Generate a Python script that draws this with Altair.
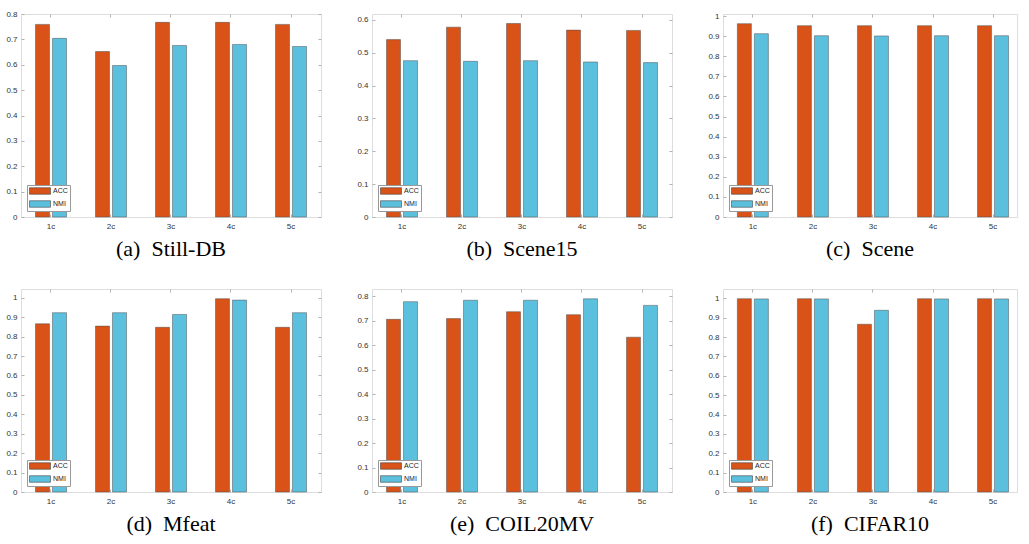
import altair as alt
import pandas as pd

categories = ["1c", "2c", "3c", "4c", "5c"]
metrics = ["ACC", "NMI"]

still_acc = [0.759, 0.652, 0.767, 0.767, 0.759]
still_nmi = [0.704, 0.597, 0.676, 0.680, 0.672]
scene15_acc = [0.540, 0.578, 0.589, 0.569, 0.568]
scene15_nmi = [0.476, 0.474, 0.476, 0.472, 0.470]
scene_acc = [0.962, 0.952, 0.952, 0.952, 0.952]
scene_nmi = [0.912, 0.902, 0.901, 0.902, 0.902]
mfeat_acc = [0.866, 0.854, 0.848, 0.995, 0.848]
mfeat_nmi = [0.923, 0.923, 0.914, 0.988, 0.923]
coil_acc = [0.706, 0.709, 0.737, 0.725, 0.633]
coil_nmi = [0.778, 0.784, 0.784, 0.790, 0.763]
cifar_acc = [0.998, 0.998, 0.866, 0.998, 0.998]
cifar_nmi = [0.997, 0.997, 0.938, 0.997, 0.997]

captions = ["(a)\u00a0 Still-DB", "(b)\u00a0 Scene15", "(c)\u00a0 Scene",
            "(d)\u00a0 Mfeat", "(e)\u00a0 COIL20MV", "(f)\u00a0 CIFAR10"]
y_max = [0.8, 0.618, 1.01, 1.045, 0.83, 1.048]
tick_top = [0.8, 0.6, 1.0, 1.0, 0.8, 1.0]

ACC_COLOR = "#D95319"
NMI_COLOR = "#5BC0DE"
EDGE = "#b3b3b3"
H = 203


def panel(acc, nmi, caption, ymax, ttop, width, clipped=False):
    df = pd.DataFrame({
        "cat": categories * 2,
        "metric": ["ACC"] * 5 + ["NMI"] * 5,
        "value": acc + nmi,
    })
    nt = int(round(ttop * 10))
    ticks = [i / 10 for i in range(nt + 1)]
    if clipped:
        xs = alt.Scale(paddingInner=0.483, paddingOuter=0.19, align=0.63)
        ydash = [3, 3000]
    else:
        xs = alt.Scale(paddingInner=0.483, paddingOuter=0.2415)
        ydash = [3, width - 6, 3, 3000]
    return alt.Chart(df).mark_bar(stroke="#4a4a4a", strokeWidth=0.6, strokeOpacity=0.8).encode(
        x=alt.X("cat:N", sort=categories, scale=xs, title=None,
                axis=alt.Axis(labelAngle=0, ticks=False, domain=False, grid=True,
                              gridDash=[3, H - 6, 3, 3000], gridColor=EDGE, gridWidth=1,
                              bandPosition=0.5, labelFontSize=8, labelPadding=5,
                              labelColor="#333333", labelFont="Liberation Sans")),
        xOffset=alt.XOffset("metric:N", sort=metrics,
                            scale=alt.Scale(paddingInner=0.176, paddingOuter=0)),
        y=alt.Y("value:Q", scale=alt.Scale(domain=[0, ymax], nice=False, zero=True), title=None,
                axis=alt.Axis(values=ticks, format="~g", ticks=False, domain=False, grid=True,
                              gridDash=ydash, gridColor=EDGE, gridWidth=1,
                              labelFontSize=8, labelPadding=4, labelColor="#333333",
                              labelFont="Liberation Sans")),
        color=alt.Color("metric:N", sort=metrics,
                        scale=alt.Scale(domain=metrics, range=[ACC_COLOR, NMI_COLOR]),
                        legend=alt.Legend(orient="bottom-left", title=None, offset=6,
                                          padding=2, rowPadding=3,
                                          fillColor="white", strokeColor="#999999",
                                          symbolType="M-1,-0.93H5V0.93H-1Z", symbolSize=49,
                                          symbolStrokeColor="#444444", symbolStrokeWidth=0.6,
                                          symbolOpacity=1, labelFontSize=7, labelOffset=16,
                                          labelFont="Liberation Sans", labelColor="#222222")),
    ).properties(
        width=width, height=H,
        title=alt.Title(caption, orient="bottom", anchor="middle", font="Liberation Serif",
                        fontSize=22, fontWeight="normal", color="black", offset=9),
    )


p = [
    panel(still_acc, still_nmi, captions[0], y_max[0], tick_top[0], 300),
    panel(scene15_acc, scene15_nmi, captions[1], y_max[1], tick_top[1], 300),
    panel(scene_acc, scene_nmi, captions[2], y_max[2], tick_top[2], 294, clipped=True),
    panel(mfeat_acc, mfeat_nmi, captions[3], y_max[3], tick_top[3], 300),
    panel(coil_acc, coil_nmi, captions[4], y_max[4], tick_top[4], 300),
    panel(cifar_acc, cifar_nmi, captions[5], y_max[5], tick_top[5], 294, clipped=True),
]

row1 = alt.hconcat(*p[:3], spacing=34).resolve_scale(color="independent", x="independent", y="independent").resolve_legend(color="independent")
row2 = alt.hconcat(*p[3:], spacing=34).resolve_scale(color="independent", x="independent", y="independent").resolve_legend(color="independent")

chart = alt.vconcat(row1, row2, spacing=27).resolve_scale(
    color="independent", x="independent", y="independent"
).resolve_legend(color="independent").properties(
    padding={"left": 5, "top": 9, "right": 0, "bottom": 0}
).configure_view(stroke=EDGE, strokeWidth=1).configure(background="white")

chart.save("out.html", embed_options={"renderer": "svg", "actions": False})
